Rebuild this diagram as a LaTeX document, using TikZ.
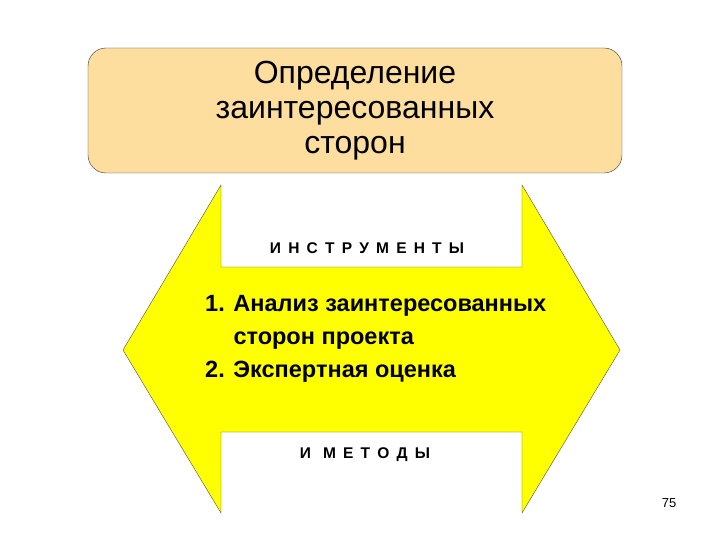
\documentclass[tikz,border=0pt]{standalone}
\usepackage{fontspec}
\setmainfont{Liberation Sans}
\usetikzlibrary{positioning}

\definecolor{boxtan}{HTML}{FDDE9F}
\definecolor{arrowyellow}{HTML}{FFFF00}
\newcommand{\widegaps}{\spaceskip 7.2pt\relax}

\tikzset{
  titlebox/.style={draw=black!80, fill=boxtan, rounded corners=18pt, minimum width=534pt, minimum height=125pt, align=center, inner sep=0pt, font=\fontsize{32}{35}\selectfont},
  spaced/.style={inner sep=0pt, font=\fontsize{15.5}{17}\selectfont\bfseries\widegaps},
}

\begin{document}
\begin{tikzpicture}[x=1pt, y=-1pt]
\useasboundingbox (0,0) rectangle (720,540);

% Top: title box
\node[titlebox] (title) at (355,110.5) {Определение\\заинтересованных\\сторон};

% Double arrow
\draw[draw=black!70, fill=arrowyellow] (221,185) -- (221,267) -- (522,267) -- (522,185) -- (620,350) -- (522,513) -- (522,432) -- (221,432) -- (221,513) -- (123,350) -- cycle;

% Labels
\node[spaced] (tools) at (367,248.5) {И Н С Т Р У М Е Н Т Ы};
\node[spaced] (methods) at (365,454.5) {И\hspace{12pt}М Е Т О Д Ы};

\node[anchor=base west, inner sep=0pt, align=left, font=\fontsize{23.5}{33}\selectfont\bfseries] (list) at (205,377)
  {1. Анализ заинтересованных\\\hphantom{1. }сторон проекта\\2. Экспертная оценка};

\node[font=\fontsize{13}{15}\selectfont] (page) at (669,503) {75};
\end{tikzpicture}
\end{document}
